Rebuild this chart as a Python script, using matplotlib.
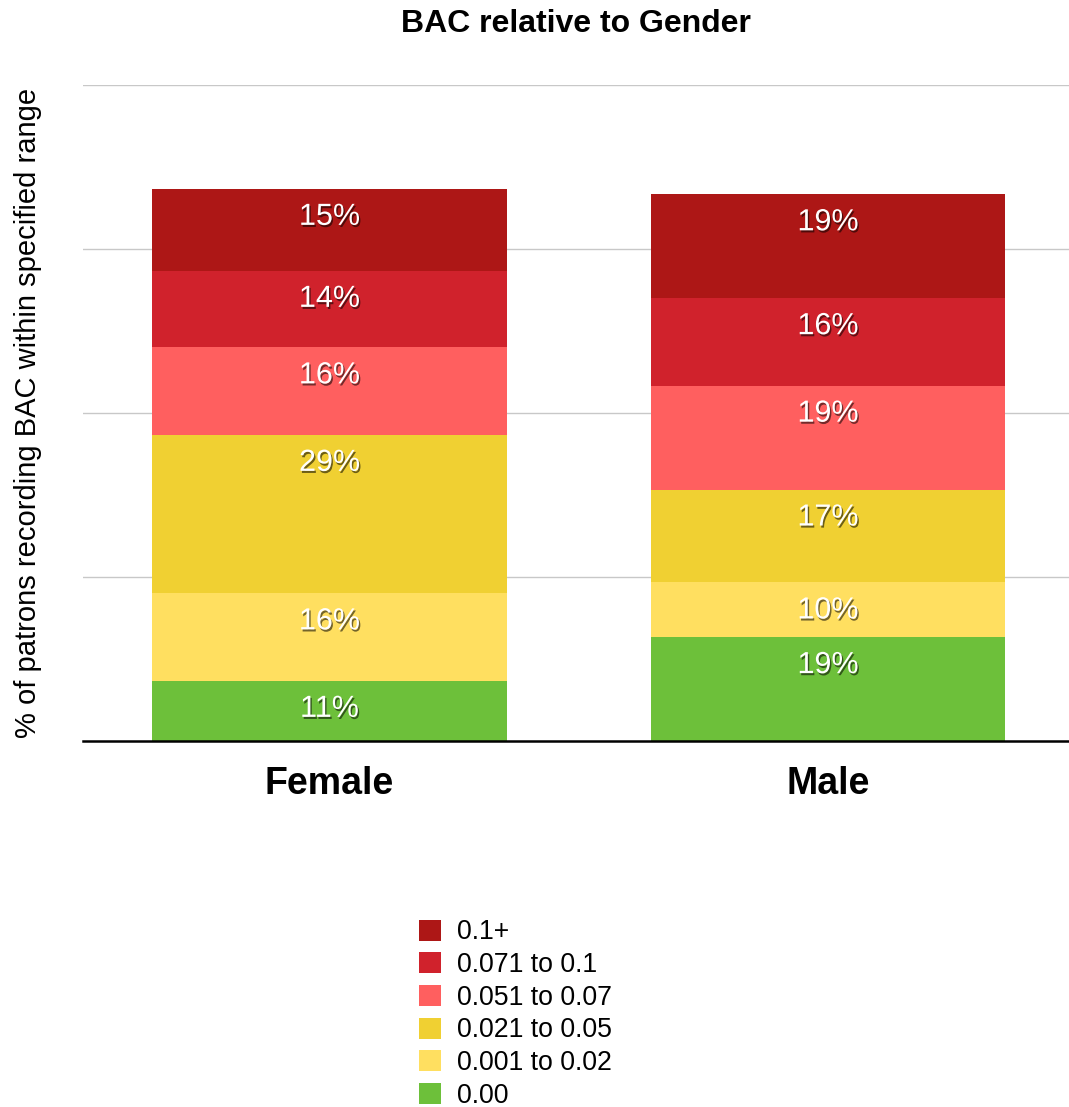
import numpy as np
import matplotlib
matplotlib.use("Agg")
import matplotlib.pyplot as plt
import matplotlib.patheffects as pe

plt.rcParams['font.family'] = ['Liberation Sans', 'DejaVu Sans']

# BAC ranges, bottom of the stack first
ranges = ["0.00", "0.001 to 0.02", "0.021 to 0.05", "0.051 to 0.07", "0.071 to 0.1", "0.1+"]
colors = ["#6DC03A", "#FFDF60", "#F0D032", "#FF5F5F", "#D0222C", "#AD1716"]

genders = ["Female", "Male"]
female = [11, 16, 29, 16, 14, 15]
male = [19, 10, 17, 19, 16, 19]

shares = np.array([female, male]).T  # rows = ranges, cols = genders

fig = plt.figure(figsize=(10.69, 11.07), dpi=100)
ax = fig.add_axes([83 / 1069, 1 - 741 / 1107, 1 - 83 / 1069, (741 - 85) / 1107])

x = np.arange(len(genders))
bottom = np.zeros(len(genders))
label_fx = [pe.SimplePatchShadow(offset=(1, -1.5), shadow_rgbFace='black', alpha=0.55), pe.Normal()]

handles = []
for name, color, vals in zip(ranges, colors, shares):
    bars = ax.bar(x, vals, width=0.712, bottom=bottom, color=color, label=name, zorder=2)
    handles.append(bars)
    for xi, b, v in zip(x, bottom, vals):
        ax.annotate(f"{v}%", xy=(xi, b + v), xytext=(0, -28), textcoords='offset pixels',
                    ha='center', va='center', fontsize=22, color='white',
                    path_effects=label_fx, zorder=3)
    bottom = bottom + vals

ax.set_xlim(-0.4945, 1.4834)
ax.set_ylim(0, 120)
ax.set_yticks([30, 60, 90, 120])
ax.yaxis.grid(True, color='#C8C8C8', linewidth=1, zorder=0)
ax.tick_params(axis='y', length=0, labelleft=False)
ax.set_xticks(x)
ax.set_xticklabels(genders, fontsize=27, fontweight='bold')
ax.tick_params(axis='x', length=0, pad=18)

for side in ['left', 'right', 'top']:
    ax.spines[side].set_visible(False)
ax.spines['bottom'].set_linewidth(1.8)
ax.spines['bottom'].set_color('black')
ax.spines['bottom'].set_zorder(4)

ax.set_title("BAC relative to Gender", fontsize=23, fontweight='bold', pad=38)
ax.set_ylabel("% of patrons recording BAC within specified range", fontsize=21)
ax.yaxis.set_label_coords(-41 / 986, 0.5)

fig.legend(handles[::-1], ranges[::-1], loc='upper left',
           bbox_to_anchor=(406 / 1069, 1 - 906 / 1107), frameon=False,
           fontsize=19.2, handlelength=0.825, handleheight=0.825,
           handletextpad=0.6, labelspacing=0.25, borderpad=0)

fig.savefig("out.png", dpi=100)
